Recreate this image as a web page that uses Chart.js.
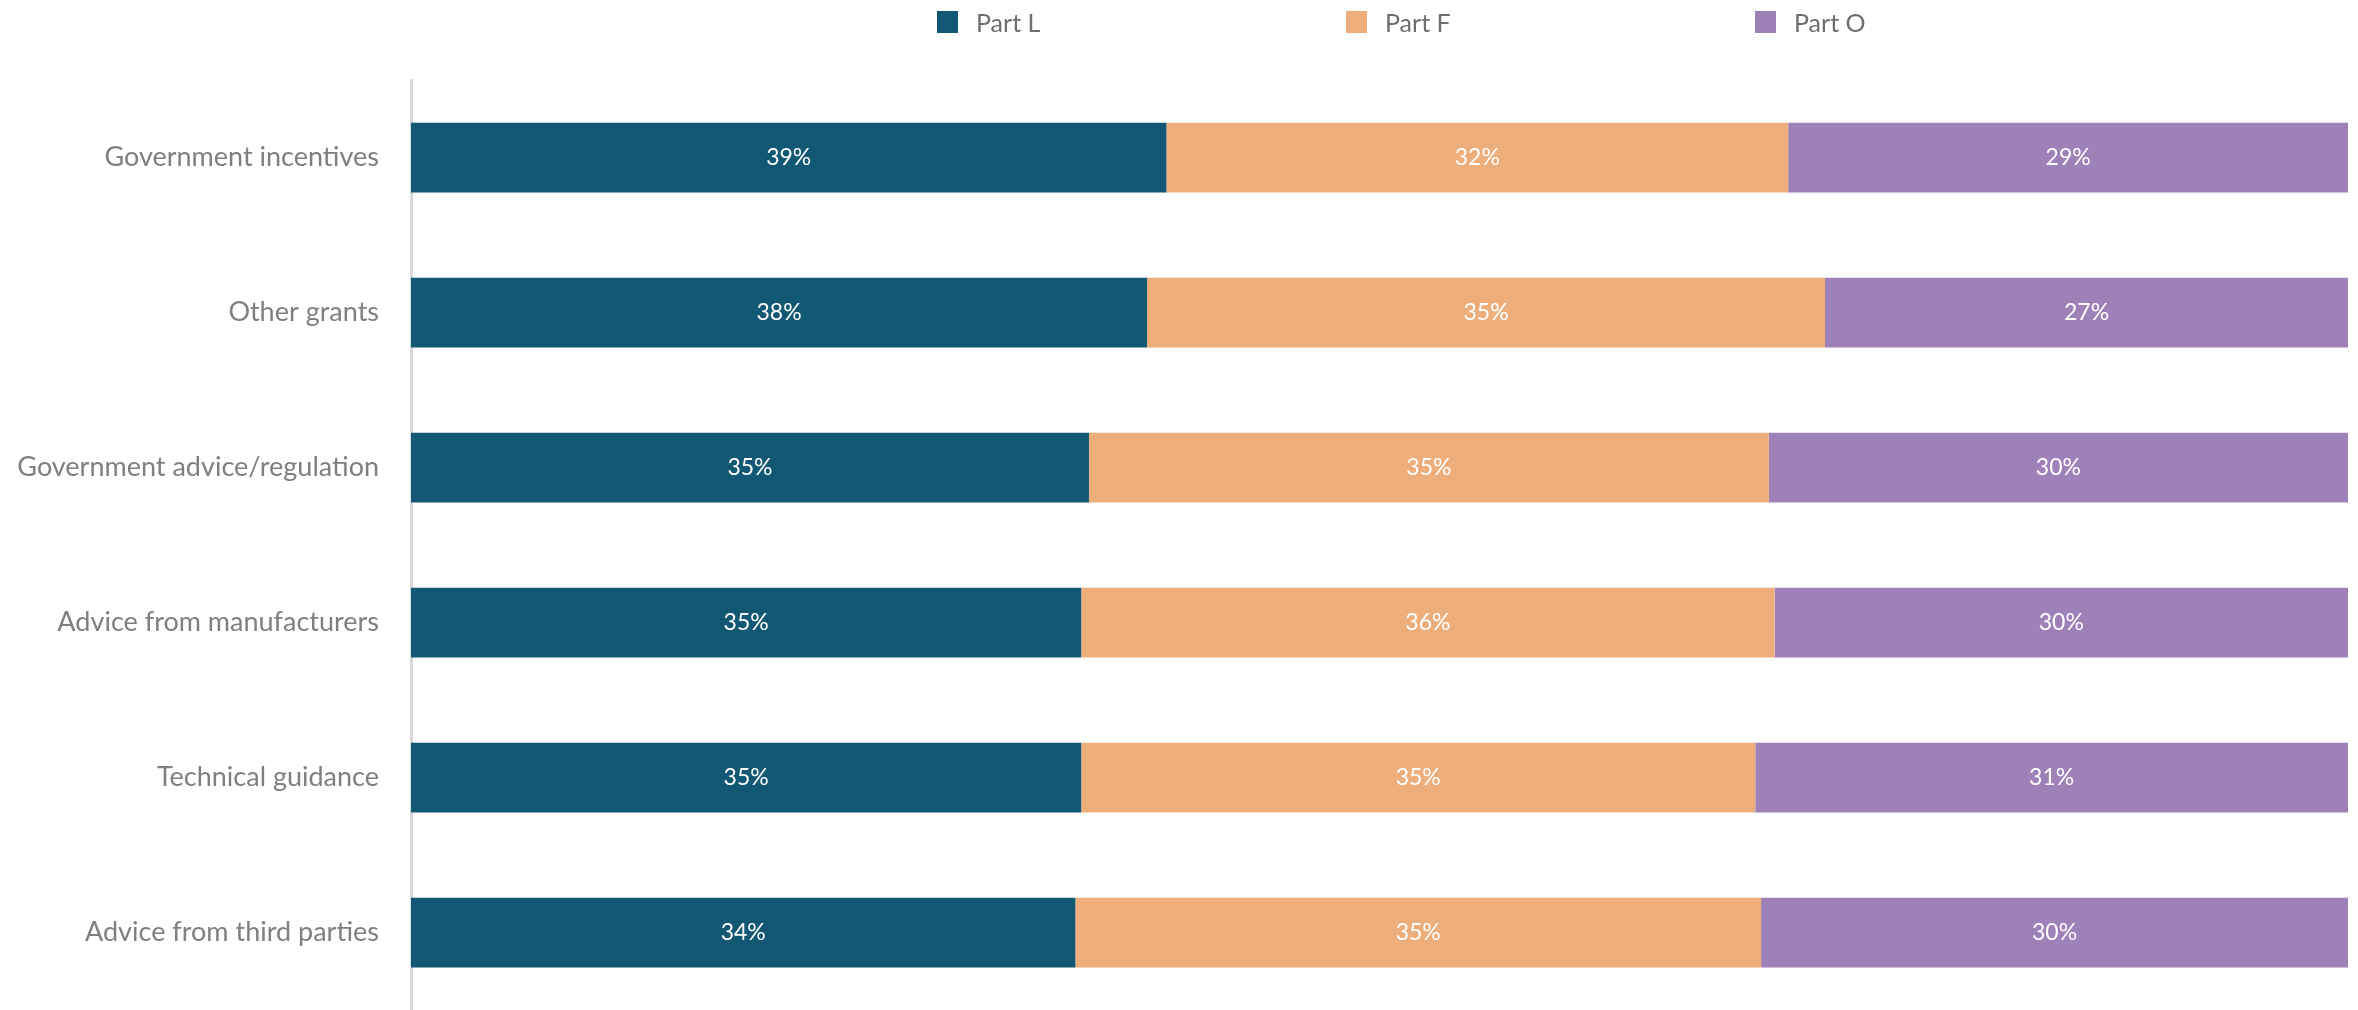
<!DOCTYPE html>
<html>
<head>
<meta charset="utf-8">
<script src="https://cdn.jsdelivr.net/npm/chart.js@4.4.1/dist/chart.umd.min.js"></script>
<style>
  html, body { margin: 0; padding: 0; background: #fff; }
  #wrap { position: relative; width: 2358px; height: 1010px; }
  #legend { position: absolute; top: 10px; left: 937px; display: flex; font-family: Lato, sans-serif; font-size: 25px; color: #6e6e6e; }
  #legend .item { display: flex; align-items: center; width: 409px; height: 24px; }
  #legend .box { width: 21px; height: 22px; margin-right: 18px; }
</style>
</head>
<body>
<div id="wrap">
  <div id="legend"></div>
  <canvas id="graph" width="2358" height="1010"></canvas>
</div>
<script>
var categories = ['Government incentives', 'Other grants', 'Government advice/regulation', 'Advice from manufacturers', 'Technical guidance', 'Advice from third parties'];
var partL = [39.0, 38.0, 35.0, 34.6, 34.6, 34.3];
var partF = [32.1, 35.0, 35.1, 35.8, 34.8, 35.4];
var partO = [28.9, 27.0, 29.9, 29.6, 30.6, 30.3];
var seriesNames = ['Part L', 'Part F', 'Part O'];
var seriesColors = ['#125773', '#edae7c', '#9f81ba'];

// legend as plain html, items spaced wide like the original
var legendEl = document.getElementById('legend');
seriesNames.forEach(function(name, i) {
    var item = document.createElement('div');
    item.className = 'item';
    item.innerHTML = '<span class="box" style="background:' + seriesColors[i] + '"></span><span>' + name + '</span>';
    legendEl.appendChild(item);
});

// white percentage labels in the middle of each segment
var barLabels = {
    id: 'barLabels',
    afterDatasetsDraw: function(chart) {
        var ctx = chart.ctx;
        ctx.save();
        ctx.fillStyle = '#ffffff';
        ctx.font = '23px Lato';
        ctx.textAlign = 'center';
        ctx.textBaseline = 'middle';
        chart.data.datasets.forEach(function(ds, i) {
            chart.getDatasetMeta(i).data.forEach(function(bar, j) {
                var c = bar.getCenterPoint();
                ctx.fillText(Math.round(ds.data[j]) + '%', c.x, c.y);
            });
        });
        ctx.restore();
    }
};

var ctx = document.getElementById('graph');
new Chart(ctx, {
    type: 'bar',
    data: {
        labels: categories,
        datasets: [
            { label: seriesNames[0], data: partL, backgroundColor: seriesColors[0] },
            { label: seriesNames[1], data: partF, backgroundColor: seriesColors[1] },
            { label: seriesNames[2], data: partO, backgroundColor: seriesColors[2] }
        ]
    },
    options: {
        indexAxis: 'y',
        responsive: false,
        animation: false,
        datasets: {
            bar: { categoryPercentage: 1, barPercentage: 0.45, borderWidth: 0 }
        },
        layout: { padding: { top: 80, right: 10, left: 0, bottom: 0 } },
        plugins: {
            legend: { display: false },
            tooltip: { enabled: false }
        },
        scales: {
            x: {
                stacked: true,
                min: 0,
                max: 100,
                display: false
            },
            y: {
                stacked: true,
                afterFit: function(scale) {
                    scale.width = 411;
                    scale.paddingTop = 0;
                    scale.paddingBottom = 0;
                },
                grid: { display: false, drawTicks: false },
                border: { display: true, color: '#d9d9d9', width: 3 },
                ticks: {
                    color: '#7f7f7f',
                    padding: 32,
                    font: { family: 'Lato', size: 27 }
                }
            }
        }
    },
    plugins: [barLabels]
});
</script>
</body>
</html>
